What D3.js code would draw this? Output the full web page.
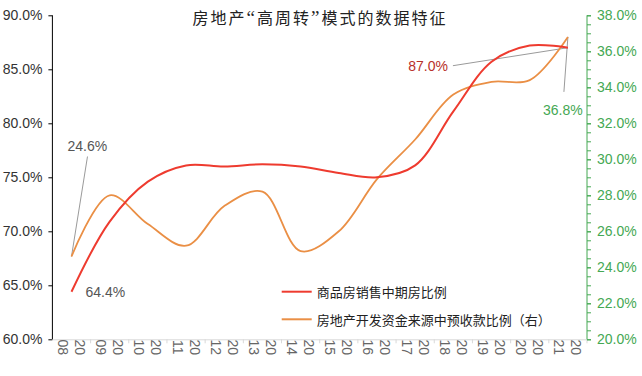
<!DOCTYPE html>
<html>
<head>
<meta charset="utf-8">
<script src="https://d3js.org/d3.v7.min.js"></script>
<style>
  body { margin: 0; background: #fff; }
  svg text { font-family: "Liberation Sans", Arial, sans-serif; }
  .cjk { font-family: "Noto Sans CJK SC", sans-serif; }
</style>
</head>
<body>
<svg id="chart" width="642" height="376"></svg>
<script>
// data
var years = ["2008", "2009", "2010", "2011", "2012", "2013", "2014", "2015", "2016", "2017", "2018", "2019", "2020", "2021"];
var presaleShare = [64.4, 70.9, 74.6, 76.1, 76.0, 76.2, 76.0, 75.4, 75.0, 76.1, 81.1, 85.7, 87.2, 87.0];   // left axis
var advanceShare = [24.6, 28.0, 26.4, 25.2, 27.4, 28.2, 24.9, 26.0, 28.9, 31.1, 33.6, 34.3, 34.4, 36.8]; // right axis
var leftTicks = [60, 65, 70, 75, 80, 85, 90];
var rightTicks = [20, 22, 24, 26, 28, 30, 32, 34, 36, 38];
var seriesNames = ["商品房销售中期房比例", "房地产开发资金来源中预收款比例（右）"];
var titleParts = ["房地产", "“", "高周转", "”", "模式的数据特征"];

var red = "#ee3b2f", orange = "#ea8f45", green = "#45a853", darkRed = "#b8302a";

var svg = d3.select("#chart"),
    margin = {top: 15.3, right: 55, bottom: 36.7, left: 52.4},
    width = +svg.attr("width") - margin.left - margin.right,
    height = +svg.attr("height") - margin.top - margin.bottom,
    g = svg.append("g").attr("transform", "translate(" + margin.left + "," + margin.top + ")");

var x = d3.scaleBand().domain(years).range([0, width]);
var yL = d3.scaleLinear().domain([60, 90]).range([height, 0]);
var yR = d3.scaleLinear().domain([20, 38]).range([height, 0]);
var cx = function(i) { return x(years[i]) + x.bandwidth() / 2; };

// x axis
var xAxis = g.append("g")
    .attr("transform", "translate(0," + height + ")")
    .call(d3.axisBottom(x).tickSize(0).tickFormat(""));
xAxis.select(".domain").attr("stroke", "#d9d9d9");
xAxis.selectAll(".tick").remove();
xAxis.selectAll("line.sep")
  .data(years)
  .enter().append("line")
    .attr("x1", function(d) { return x(d) + x.bandwidth(); })
    .attr("x2", function(d) { return x(d) + x.bandwidth(); })
    .attr("y1", 0).attr("y2", 4)
    .attr("stroke", "#d9d9d9");
var xl = xAxis.selectAll("text.yr")
  .data(years)
  .enter().append("text")
    .attr("class", "yr")
    .attr("transform", function(d) { return "translate(" + (x(d) + x.bandwidth() / 2) + ",8) rotate(90)"; })
    .attr("fill", "#666")
    .attr("font-size", 14);
xl.append("tspan").attr("x", 0).attr("y", -8.5).attr("dominant-baseline", "central").text(function(d) { return d.slice(0, 2); });
xl.append("tspan").attr("x", 0).attr("y", 8.5).attr("dominant-baseline", "central").text(function(d) { return d.slice(2); });

// left axis
var aL = g.append("g")
    .call(d3.axisLeft(yL).tickValues(leftTicks).tickSize(4).tickPadding(6)
      .tickFormat(function(d) { return d.toFixed(1) + "%"; }));
aL.select(".domain").attr("stroke", "#000").attr("d", "M0," + height + "V0");
aL.selectAll(".tick line").attr("stroke", "#000");
aL.selectAll(".tick text").attr("fill", "#333").attr("font-size", 14).attr("font-family", "Liberation Sans, Arial, sans-serif");

// right axis with minor ticks
var aRminor = g.append("g")
    .attr("transform", "translate(" + width + ",0)")
    .call(d3.axisRight(yR).ticks(45).tickSize(4).tickFormat(""));
aRminor.select(".domain").remove();
aRminor.selectAll(".tick line").attr("stroke", green);
var aR = g.append("g")
    .attr("transform", "translate(" + width + ",0)")
    .call(d3.axisRight(yR).tickValues(rightTicks).tickSize(4).tickPadding(6)
      .tickFormat(function(d) { return d.toFixed(1) + "%"; }));
aR.select(".domain").attr("stroke", green).attr("d", "M0," + height + "V0");
aR.selectAll(".tick line").attr("stroke", green);
aR.selectAll(".tick text").attr("fill", green).attr("font-size", 14).attr("font-family", "Liberation Sans, Arial, sans-serif");

// lines
var lineL = d3.line().curve(d3.curveCatmullRom.alpha(0.5))
    .x(function(d, i) { return cx(i); }).y(function(d) { return yL(d); });
var lineR = d3.line().curve(d3.curveCatmullRom.alpha(0.5))
    .x(function(d, i) { return cx(i); }).y(function(d) { return yR(d); });

// leader lines
var last = years.length - 1;
var leaders = g.append("g").attr("stroke", "#9a9a9a").attr("stroke-width", 1);
leaders.append("line")
    .attr("x1", cx(0) + 16).attr("y1", yR(advanceShare[0]) - 100)
    .attr("x2", cx(0)).attr("y2", yR(advanceShare[0]));
leaders.append("line")
    .attr("x1", cx(last) - 115).attr("y1", yL(presaleShare[last]) + 18)
    .attr("x2", cx(last)).attr("y2", yL(presaleShare[last]));
leaders.append("line")
    .attr("x1", cx(last) - 4).attr("y1", yR(advanceShare[last]) + 55)
    .attr("x2", cx(last)).attr("y2", yR(advanceShare[last]));

g.append("path").datum(advanceShare)
    .attr("d", lineR).attr("fill", "none").attr("stroke", orange).attr("stroke-width", 1.8);
g.append("path").datum(presaleShare)
    .attr("d", lineL).attr("fill", "none").attr("stroke", red).attr("stroke-width", 2);

// value labels
var lab = g.append("g").attr("font-size", 14).attr("dominant-baseline", "central");
lab.append("text").attr("x", cx(0) - 4).attr("y", yR(advanceShare[0]) - 110)
    .attr("fill", "#555").text(advanceShare[0].toFixed(1) + "%");
lab.append("text").attr("x", cx(0) + 14).attr("y", yL(presaleShare[0]))
    .attr("fill", "#555").text(presaleShare[0].toFixed(1) + "%");
lab.append("text").attr("x", cx(last) - 120).attr("y", yL(presaleShare[last]) + 18)
    .attr("text-anchor", "end").attr("fill", darkRed).text(presaleShare[last].toFixed(1) + "%");
lab.append("text").attr("x", cx(last) - 5).attr("y", yR(advanceShare[last]) + 73)
    .attr("text-anchor", "middle").attr("fill", green).text(advanceShare[last].toFixed(1) + "%");

// legend
var legend = g.append("g").attr("class", "cjk")
    .attr("transform", "translate(" + (281.7 - margin.left) + "," + (291.7 - margin.top) + ")");
var lg = legend.selectAll("g").data(seriesNames).enter().append("g")
    .attr("transform", function(d, i) { return "translate(0," + i * 27.6 + ")"; });
lg.append("line").attr("x1", 0).attr("x2", 30)
    .attr("stroke", function(d, i) { return i ? orange : red; }).attr("stroke-width", 2);
lg.append("text").attr("x", 35).attr("dominant-baseline", "central")
    .attr("font-size", 13).attr("fill", "#222").attr("class", "cjk").text(function(d) { return d; });

// title: CJK in sans, narrow serif quotes
var t = svg.append("text").attr("class", "cjk")
    .attr("x", 320).attr("y", 17).attr("text-anchor", "middle").attr("dominant-baseline", "central")
    .attr("font-size", 16).attr("letter-spacing", 2).attr("fill", "#222");
t.selectAll("tspan").data(titleParts).enter().append("tspan")
    .attr("font-family", function(d, i) { return i % 2 ? "Liberation Serif, serif" : null; })
    .attr("font-size", function(d, i) { return i % 2 ? 19 : null; })
    .text(function(d) { return d; });
</script>
</body>
</html>
